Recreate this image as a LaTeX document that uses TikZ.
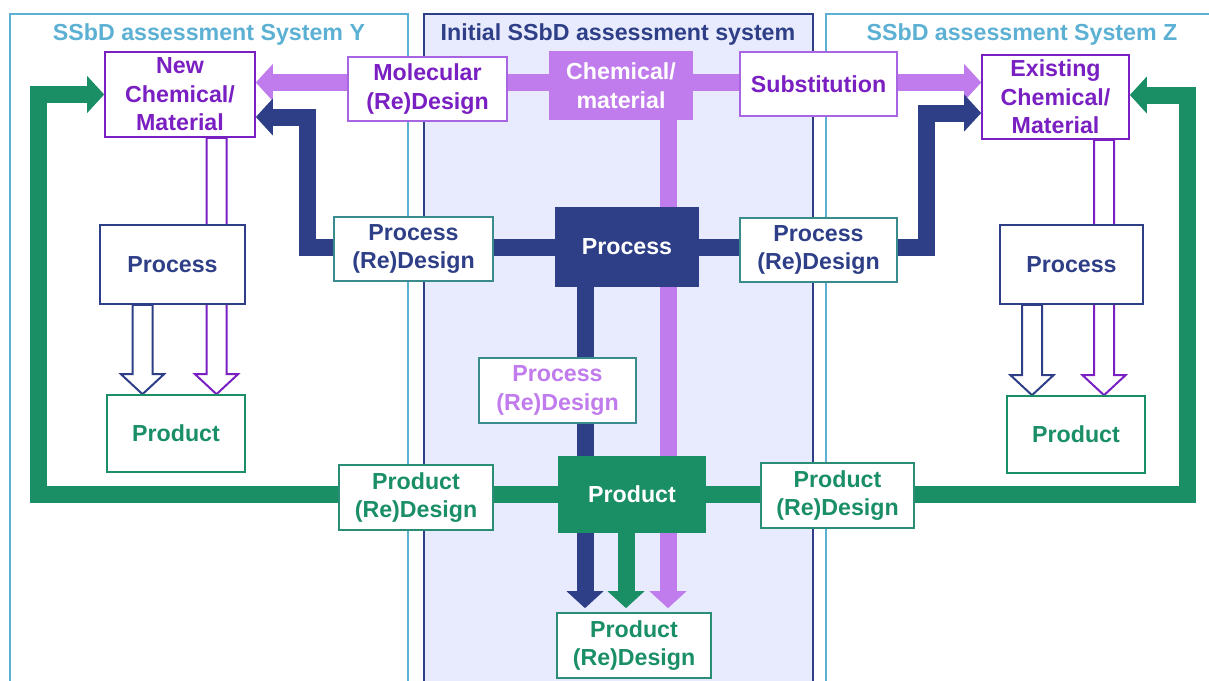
\documentclass[tikz,border=0pt]{standalone}
\usepackage{fontspec}
\setmainfont{Liberation Sans}
\usepackage{xcolor}
\usepackage{tikz}
\usetikzlibrary{arrows.meta}
\usetikzlibrary{calc}
\usetikzlibrary{positioning}

\definecolor{sysblue}{HTML}{5BB0D3}
\definecolor{navy}{HTML}{2E3F87}
\definecolor{lav}{HTML}{E8EBFD}
\definecolor{purp}{HTML}{7A1FC2}
\definecolor{mpurp}{HTML}{A865E2}
\definecolor{lpurp}{HTML}{C07BEC}
\definecolor{grn}{HTML}{1A8F66}
\definecolor{tealb}{HTML}{3A8C8C}
\definecolor{gteal}{HTML}{2A8E77}

\pgfdeclarelayer{frames}
\pgfdeclarelayer{flows}
\pgfsetlayers{frames,flows,main}

\tikzset{wh/.style 2 args={minimum width=#1*0.5pt, minimum height=#2*0.5pt}}

\newcommand{\lbl}{\fontsize{11.6}{14.3}\selectfont\bfseries}
% open block arrow, straight down from #2 to the top of node #3
\newcommand{\hollowarrow}[3]{%
  \draw[color=#1, line width=1pt, fill=white, line join=miter]
    let \p1=(#2), \p2=(#2 |- #3.north) in
    (\x1-5pt,\y1) -- (\x1-5pt,\y2+10pt) -- (\x1-10.75pt,\y2+10pt) -- (\x1,\y2)
    -- (\x1+10.75pt,\y2+10pt) -- (\x1+5pt,\y2+10pt) -- (\x1+5pt,\y1) -- cycle;}

\begin{document}
\begin{tikzpicture}[x=0.5pt,y=-0.5pt,semithick]
  \tikzstyle{box}=[draw, fill=white, line width=0.8pt, align=center, inner sep=1pt, font=\lbl]
  \tikzstyle{hub}=[box, text=white]
  \tikzstyle{title}=[font=\lbl]
  \tikzstyle{flow}=[line width=8.5pt, line join=miter, -{Triangle[width=18pt,length=8.5pt]}]

  \path[use as bounding box] (0,0) rectangle (1209,680);

  \begin{pgfonlayer}{frames}
    \draw[sysblue, line width=1pt] (10,14) rectangle (408,700);
    \draw[navy, fill=lav, line width=1pt] (424,14) rectangle (813,700);
    \draw[sysblue, line width=1pt] (826,14) rectangle (1220,700);
  \end{pgfonlayer}

  \node[title, text=sysblue] (titY) at (209,35) {SSbD assessment System Y};
  \node[title, text=navy] (titI) at (618,35) {Initial SSbD assessment system};
  \node[title, text=sysblue] (titZ) at (1022,35) {SSbD assessment System Z};

  % chemical / material row
  \node[box, draw=purp, text=purp, wh={150}{85}] (NewY) at (180,94.5) {New\\Chemical/\\Material};
  \node[box, draw=mpurp, text=purp, wh={159}{64}] (MolRD) at (427.5,89) {Molecular\\(Re)Design};
  \node[hub, draw=lpurp, fill=lpurp, wh={142}{67}] (Chem) at (621,85.5) {Chemical/\\material};
  \node[box, draw=mpurp, text=purp, wh={157}{64}] (Subst) at (818.5,84) {Substitution};
  \node[box, draw=purp, text=purp, wh={147}{84}] (ExZ) at (1055.5,97) {Existing\\Chemical/\\Material};

  % process row
  \node[box, draw=navy, text=navy, wh={145}{79}] (ProcY) at (172.5,264.5) {Process};
  \node[box, draw=tealb, text=navy, wh={159}{64}] (PRDl) at (413.5,249) {Process\\(Re)Design};
  \node[hub, draw=navy, fill=navy, wh={142}{78}] (PcC) at (627,247) {Process};
  \node[box, draw=tealb, text=navy, wh={157}{64}] (PRDr) at (818.5,250) {Process\\(Re)Design};
  \node[box, draw=navy, text=navy, wh={143}{79}] (ProcZ) at (1071.5,264.5) {Process};
  \node[box, draw=tealb, text=lpurp, wh={157}{65}] (PRDp) at (557.5,390.5) {Process\\(Re)Design};

  % product row
  \node[box, draw=grn, text=grn, wh={138}{77}] (ProdY) at (176,433.5) {Product};
  \node[box, draw=gteal, text=grn, wh={154}{65}] (PdRDl) at (416,497.5) {Product\\(Re)Design};
  \node[hub, draw=grn, fill=grn, wh={146}{75}] (PdC) at (632,494.5) {Product};
  \node[box, draw=gteal, text=grn, wh={153}{65}] (PdRDr) at (837.5,495.5) {Product\\(Re)Design};
  \node[box, draw=grn, text=grn, wh={138}{77}] (ProdZ) at (1076,434.5) {Product};
  \node[box, draw=gteal, text=grn, wh={154}{65}] (PdRD) at (634,645.5) {Product\\(Re)Design};

  \coordinate (chemL) at ($(Chem)+(0,-3)$);
  \coordinate (pv) at ($(Chem.south)+(47,0)$);
  \coordinate (nv) at ($(PcC.south)+(-42,0)$);
  \coordinate (gv) at ($(PdC.south)+(-6,0)$);
  \coordinate (hpy) at ($(NewY.south)+(36.5,0)$);
  \coordinate (hny) at ($(ProcY.south)+(-30,0)$);
  \coordinate (hpz) at ($(ExZ.south)+(48.5,0)$);
  \coordinate (hnz) at ($(ProcZ.south)+(-39.5,0)$);

  \begin{pgfonlayer}{flows}
    \draw[flow, color=lpurp] (chemL) -- (chemL -| NewY.east);
    \draw[flow, color=lpurp] (chemL) -- (chemL -| ExZ.west);
    \draw[flow, color=navy] (PcC) -| ($(NewY.east)+(52,22.5)$) -- ($(NewY.east)+(0,22.5)$);
    \draw[flow, color=navy] (PcC) -| ($(ExZ.west)+(-55,16)$) -- ($(ExZ.west)+(0,16)$);
    \draw[flow, color=grn] (PdC) -| ($(NewY.west)+(-66,0)$) -- (NewY.west);
    \draw[flow, color=grn] (PdC) -| ($(ExZ.east)+(58,-2)$) -- ($(ExZ.east)+(0,-2)$);
    \foreach \col/\from in {navy/nv, grn/gv, lpurp/pv}{
      \draw[flow, color=\col, shorten >=2pt] (\from) -- (\from |- PdRD.north);
    }
    \foreach \col/\from/\tgt in {purp/hpy/ProdY, navy/hny/ProdY, purp/hpz/ProdZ, navy/hnz/ProdZ}{
      \hollowarrow{\col}{\from}{\tgt}
    }
  \end{pgfonlayer}
\end{tikzpicture}
\end{document}
